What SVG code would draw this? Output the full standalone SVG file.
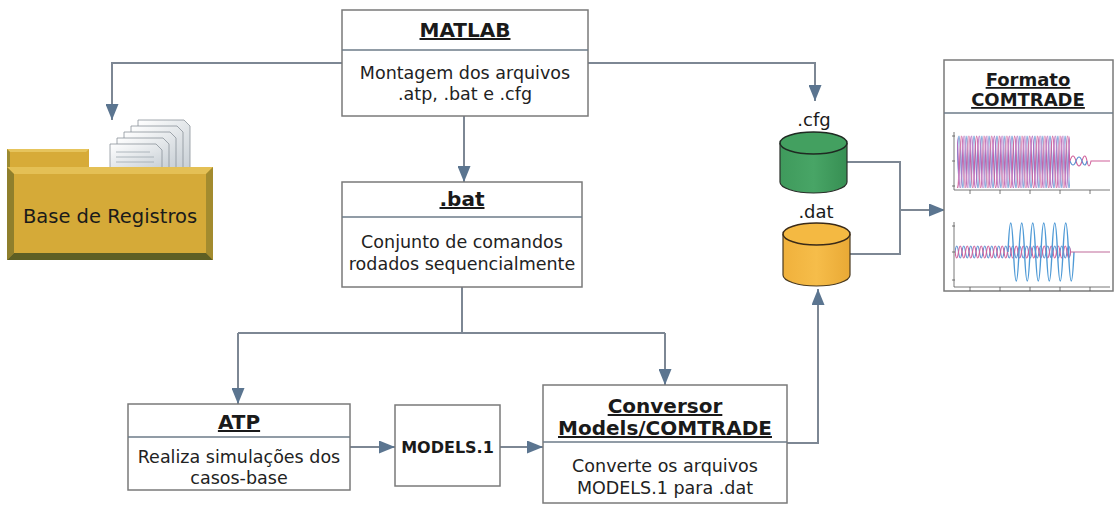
<svg xmlns="http://www.w3.org/2000/svg" width="1115" height="505" viewBox="0 0 1115 505">
  <defs>
    <style>
      .box { fill: #ffffff; stroke: #7a7a7a; stroke-width: 1.5; }
      .div { stroke: #6d7b88; stroke-width: 1.5; }
      .ttl { font-family: "DejaVu Sans", Verdana, sans-serif; font-weight: bold; font-size: 20px; fill: #1a1a1a; text-anchor: middle; text-decoration: underline; }
      .ttl.sm { font-size: 18px; }
      .txt { font-family: "DejaVu Sans", Verdana, sans-serif; font-size: 17.5px; fill: #222222; text-anchor: middle; }
      .lbl { font-family: "DejaVu Sans", Verdana, sans-serif; font-size: 18px; fill: #1a1a1a; text-anchor: middle; }
      .con { fill: none; stroke: #7d8794; stroke-width: 2; marker-end: url(#ah); }
      .lnk { fill: none; stroke: #7d8794; stroke-width: 2; }
      .sheet { fill: url(#paper); stroke: #8a9299; stroke-width: 0.8; }
      .rule { stroke: #a0a8b0; stroke-width: 0.8; }
      .axis { stroke: #555555; stroke-width: 0.8; fill: none; }
    </style>
    <marker id="ah" markerUnits="userSpaceOnUse" markerWidth="17" markerHeight="13" refX="16" refY="6.5" orient="auto">
      <path d="M0,0 L16,6.5 L0,13 Z" fill="#5b7590"/>
    </marker>
    <linearGradient id="paper" x1="0" y1="0" x2="1" y2="1">
      <stop offset="0" stop-color="#ffffff"/>
      <stop offset="1" stop-color="#c9d0d6"/>
    </linearGradient>
    <linearGradient id="cfgBody" x1="0" y1="0" x2="1" y2="0">
      <stop offset="0" stop-color="#3f9a5c"/>
      <stop offset="0.5" stop-color="#48a566"/>
      <stop offset="1" stop-color="#378f53"/>
    </linearGradient>
    <linearGradient id="datBody" x1="0" y1="0" x2="1" y2="0">
      <stop offset="0" stop-color="#f0b13c"/>
      <stop offset="0.5" stop-color="#f6bd4a"/>
      <stop offset="1" stop-color="#e9a935"/>
    </linearGradient>
    <!-- three-phase steady-state oscillation for the upper trace -->
    <pattern id="wave3" patternUnits="userSpaceOnUse" x="957" y="134" width="7.6" height="56">
      <path d="M-7.6,28 q1.9,-52 3.8,0 t3.8,0 t3.8,0 t3.8,0 t3.8,0 t3.8,0" fill="none" stroke="#5b8fd0" stroke-width="1.2"/>
      <path d="M-5.07,28 q1.9,-52 3.8,0 t3.8,0 t3.8,0 t3.8,0 t3.8,0 t3.8,0" fill="none" stroke="#d0609a" stroke-width="1.2"/>
      <path d="M-2.53,28 q1.9,-52 3.8,0 t3.8,0 t3.8,0 t3.8,0 t3.8,0 t3.8,0" fill="none" stroke="#b06ac0" stroke-width="1.2"/>
    </pattern>
    <!-- small pre-fault oscillation for the lower trace -->
    <pattern id="waveSmall" patternUnits="userSpaceOnUse" x="955" y="244" width="7" height="16">
      <path d="M-7,8 q1.75,-12 3.5,0 t3.5,0 t3.5,0 t3.5,0 t3.5,0 t3.5,0" fill="none" stroke="#5b8fd0" stroke-width="1.2"/>
      <path d="M-3.5,8 q1.75,-12 3.5,0 t3.5,0 t3.5,0 t3.5,0 t3.5,0 t3.5,0" fill="none" stroke="#d0609a" stroke-width="1.2"/>
    </pattern>
  </defs>

  <rect x="0" y="0" width="1115" height="505" fill="#ffffff"/>

  <!-- connectors -->
  <g id="connectors">
    <path class="con" d="M342,63 H112 V120"/>
    <path class="con" d="M588,63 H815 V101"/>
    <path class="con" d="M464,116 V182"/>
    <path class="lnk" d="M462,287 V333 M238,333 H665"/>
    <path class="con" d="M238,333 V404"/>
    <path class="con" d="M665,333 V385"/>
    <path class="con" d="M350,447 H395"/>
    <path class="con" d="M500,447 H543"/>
    <path class="con" d="M787,443 H818 V289"/>
    <path class="lnk" d="M847,162 H900 V254 H850"/>
    <path class="con" d="M900,210 H945"/>
  </g>

  <!-- record archive folder -->
  <g id="base-registros">
    <g id="papers">
      <g transform="translate(138,120)">
        <path class="sheet" d="M0,0 H46 L52,6 V48 H0 Z"/>
        <line class="rule" x1="6" y1="8" x2="40" y2="8"/>
      </g>
      <g transform="translate(131,126)">
        <path class="sheet" d="M0,0 H46 L52,6 V42 H0 Z"/>
        <line class="rule" x1="6" y1="8" x2="40" y2="8"/>
      </g>
      <g transform="translate(124,132)">
        <path class="sheet" d="M0,0 H46 L52,6 V36 H0 Z"/>
        <line class="rule" x1="6" y1="8" x2="40" y2="8"/>
      </g>
      <g transform="translate(117,138)">
        <path class="sheet" d="M0,0 H46 L52,6 V30 H0 Z"/>
        <line class="rule" x1="6" y1="8" x2="40" y2="8"/>
      </g>
      <g transform="translate(110,144)">
        <path class="sheet" d="M0,0 H46 L52,6 V24 H0 Z"/>
        <line class="rule" x1="6" y1="8" x2="40" y2="8"/>
        <line class="rule" x1="6" y1="13" x2="44" y2="13"/>
        <line class="rule" x1="6" y1="18" x2="44" y2="18"/>
      </g>
    </g>
    <!-- tab -->
    <rect x="7" y="149" width="82" height="20" fill="#d7ab38"/>
    <polygon points="7,149 89,149 86,152 10,152" fill="#e6c45c"/>
    <polygon points="7,149 10,152 10,169 7,169" fill="#9c8a30"/>
    <!-- body with bevelled edges -->
    <rect x="7" y="167" width="206" height="93" fill="#d5aa38"/>
    <polygon points="7,167 213,167 206,174 14,174" fill="#e4c055"/>
    <polygon points="7,167 14,174 14,253 7,260" fill="#8f7f2c"/>
    <polygon points="213,167 213,260 206,253 206,174" fill="#a38b2e"/>
    <polygon points="7,260 14,253 206,253 213,260" fill="#5e5f24"/>
    <text class="lbl" x="110" y="223" style="font-size:19.5px">Base de Registros</text>
  </g>

  <g id="matlab">
    <rect class="box" x="342" y="10" width="246" height="106"/>
    <line class="div" x1="342" y1="50" x2="588" y2="50"/>
    <text class="ttl" x="465" y="37">MATLAB</text>
    <text class="txt" x="465" y="79">Montagem dos arquivos</text>
    <text class="txt" x="465" y="100">.atp, .bat e .cfg</text>
  </g>

  <g id="bat">
    <rect class="box" x="342" y="182" width="240" height="105"/>
    <line class="div" x1="342" y1="217" x2="582" y2="217"/>
    <text class="ttl" x="462" y="206">.bat</text>
    <text class="txt" x="462" y="248">Conjunto de comandos</text>
    <text class="txt" x="462" y="270">rodados sequencialmente</text>
  </g>

  <g id="atp">
    <rect class="box" x="128" y="404" width="222" height="86"/>
    <line class="div" x1="128" y1="437" x2="350" y2="437"/>
    <text class="ttl" x="239" y="429">ATP</text>
    <text class="txt" x="239" y="463">Realiza simulações dos</text>
    <text class="txt" x="239" y="484">casos-base</text>
  </g>

  <g id="models1">
    <rect class="box" x="395" y="405" width="105" height="81"/>
    <text class="ttl" x="447.5" y="453" style="text-decoration:none;font-size:16px">MODELS.1</text>
  </g>

  <g id="conversor">
    <rect class="box" x="543" y="385" width="244" height="118"/>
    <line class="div" x1="543" y1="442" x2="787" y2="442"/>
    <text class="ttl" x="665" y="413">Conversor</text>
    <text class="ttl" x="665" y="435">Models/COMTRADE</text>
    <text class="txt" x="665" y="472">Converte os arquivos</text>
    <text class="txt" x="665" y="494">MODELS.1 para .dat</text>
  </g>

  <g id="cfg">
    <text class="lbl" x="814" y="126">.cfg</text>
    <path d="M780,143 V182 A33.5,11 0 0 0 847,182 V143" fill="url(#cfgBody)" stroke="#2a2f2a" stroke-width="1.2"/>
    <ellipse cx="813.5" cy="143" rx="33.5" ry="11" fill="#43a060" stroke="#1f2a22" stroke-width="1.5"/>
  </g>

  <g id="dat">
    <text class="lbl" x="816" y="218">.dat</text>
    <path d="M783,234 V275 A33.5,11 0 0 0 850,275 V234" fill="url(#datBody)" stroke="#4a3a20" stroke-width="1.2"/>
    <ellipse cx="816.5" cy="234" rx="33.5" ry="11" fill="#f4b942" stroke="#3a2a18" stroke-width="1.5"/>
  </g>

  <g id="formato-comtrade">
    <rect class="box" x="944" y="60" width="169" height="231"/>
    <line class="div" x1="944" y1="113" x2="1113" y2="113"/>
    <text class="ttl sm" x="1028" y="86">Formato</text>
    <text class="ttl sm" x="1028" y="106">COMTRADE</text>
    <!-- upper oscillogram -->
    <path class="axis" d="M954,132 V190 H1110"/>
    <path class="axis" d="M952,136 H955 M952,161 H955 M952,186 H955 M970,190 V194 M1000,190 V194 M1030,190 V194 M1060,190 V194 M1090,190 V194"/>
    <rect x="957" y="134" width="113" height="54" fill="url(#wave3)"/>
    <path d="M1070,161 q3,-10 6,0 t6,0 t5,0 t4,0 H1110" fill="none" stroke="#d0609a" stroke-width="1.1"/>
    <path d="M1070,161 q3,8 6,0 t6,0 t5,0" fill="none" stroke="#5b8fd0" stroke-width="1.1"/>
    <!-- lower oscillogram -->
    <path class="axis" d="M954,222 V287 H1110"/>
    <path class="axis" d="M952,226 H955 M952,252 H955 M952,280 H955 M970,287 V291 M1000,287 V291 M1030,287 V291 M1060,287 V291 M1090,287 V291"/>
    <rect x="955" y="244" width="116" height="16" fill="url(#waveSmall)"/>
    <path d="M1008,252 q2.75,-58 5.5,0 t5.5,0 t5.5,0 t5.5,0 t5.5,0 t5.5,0 t5.5,0 t5.5,0 t5.5,0 t5.5,0 t5.5,0 t5.5,0" fill="none" stroke="#4f9ad6" stroke-width="1.4"/>
    <path d="M1071,252 H1110" fill="none" stroke="#c06a9a" stroke-width="1.1"/>
  </g>
</svg>
